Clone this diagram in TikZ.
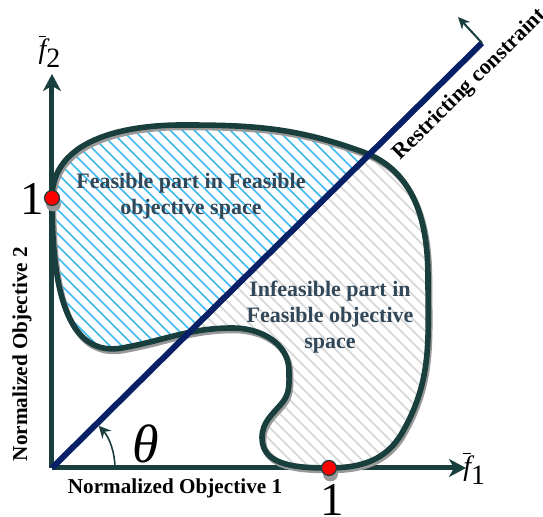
\documentclass[tikz,border=0pt]{standalone}
\usepackage{fontspec}
\setmainfont{Liberation Serif}
\usetikzlibrary{arrows.meta}
\definecolor{axisgreen}{RGB}{24,62,62}
\definecolor{cnavy}{RGB}{8,32,102}
\definecolor{txtslate}{RGB}{50,72,88}
\definecolor{hatchblue}{RGB}{60,185,240}
\definecolor{hatchgrey}{RGB}{218,218,218}
\def\blob{(0,270) to[out=90,in=180] (130,343) to[out=0,in=160] (311,316)
  to[out=-20,in=90] (376,190) to[out=-90,in=60] (350,35) to[out=-120,in=0] (277,0)
  to[out=180,in=-90] (210,30) to[out=90,in=-130] (230,65) to[out=50,in=-90] (237,97)
  to[out=90,in=0] (181,140) to[out=180,in=10] (70,120) to[out=190,in=-90] cycle}

\begin{document}
\begin{tikzpicture}[x=0.5pt,y=0.5pt,
  axisline/.style={draw=axisgreen,line width=2.5pt,-{Stealth[length=8.5pt,width=9pt,inset=2.5pt]}},
  blobline/.style={line width=2.8pt},
  dotmark/.style={circle,fill=red,draw=axisgreen,line width=0.6pt,minimum size=7.5pt,inner sep=0pt},
  region/.style={font=\fontsize{11}{13}\selectfont\bfseries,text=txtslate,align=center},
  axlabel/.style={font=\fontsize{10.6}{12}\selectfont\bfseries},
  big/.style={font=\fontsize{23.5}{26}\selectfont}]
  \useasboundingbox (-52,-49) rectangle (491,468);
  \coordinate (O) at (0,0);
  \coordinate (xend) at (414,0);
  \coordinate (yend) at (0,394);
  \coordinate (ctop) at (430,425);
  \coordinate (cnorm) at (406,451);

  % hatching of the two parts
  \begin{scope}
    \clip \blob;
    \clip (0,0) -- (500,494) -- (-60,494) -- (-60,0) -- cycle;
    \foreach \c in {0,12,...,720}
      \draw[hatchblue,line width=0.75pt] (\c-360,360) -- (\c+10,-10);
  \end{scope}
  \begin{scope}
    \clip \blob;
    \clip (0,0) -- (500,494) -- (500,-60) -- (0,-60) -- cycle;
    \foreach \c in {6,18,...,726}
      \draw[hatchgrey,line width=0.9pt] (\c-360,360) -- (\c+10,-10);
    \draw[gray,line width=3pt,shift={(2,-2)}] (O) -- (ctop);
  \end{scope}

  % axes
  \draw[axisline] (O) -- (xend);
  \draw[axisline] (O) -- (yend);

  % outline with shadow
  \draw[gray!80,blobline,shift={(1.5,-2.5)}] \blob;
  \draw[axisgreen,blobline] \blob;

  % constraint
  \draw[cnavy,line width=3pt] (O) -- (ctop);
  \draw[axisgreen,line width=1pt,-{Stealth[length=6pt,width=5.5pt]}] (ctop) -- (cnorm);
  \draw[axisgreen,line width=0.8pt,-{Stealth[length=6pt,width=6pt]}] (O) ++(63,0) arc[start angle=0,end angle=42,radius=63];

  % points
  \fill[gray!80] (1.5,264) circle[radius=7.5];
  \fill[gray!80] (278.5,-6) circle[radius=7.5];
  \node[dotmark] (p2) at (0,270) {};
  \node[dotmark] (p1) at (277,0) {};

  % labels
  \node[big] (one2) at (-20,269) {1};
  \node[big] (one1) at (280,-32) {1};
  \node[font=\fontsize{27}{30}\selectfont\itshape] (theta) at (94,24) {θ};
  \node[font=\fontsize{14}{16}\selectfont] (f2) at (-2,417) {$\overline{\textit{f}}_{\textrm{2}}$};
  \node[font=\fontsize{14}{16}\selectfont,anchor=west,inner sep=0pt] (f1) at (411,0) {$\overline{\textit{f}}_{\textrm{1}}$};
  \node[axlabel] (xlab) at (123,-20) {Normalized Objective 1};
  \node[axlabel,rotate=90] (ylab) at (-30,114) {Normalized Objective 2};
  \node[region] (feas) at (139,272) {Feasible part in Feasible\\objective space};
  \node[region] (infeas) at (278,151) {Infeasible part in\\Feasible objective\\space};
  \node[font=\fontsize{11}{13}\selectfont\bfseries,rotate=44.7] (rc) at (418,383) {Restricting constraint};
\end{tikzpicture}
\end{document}
